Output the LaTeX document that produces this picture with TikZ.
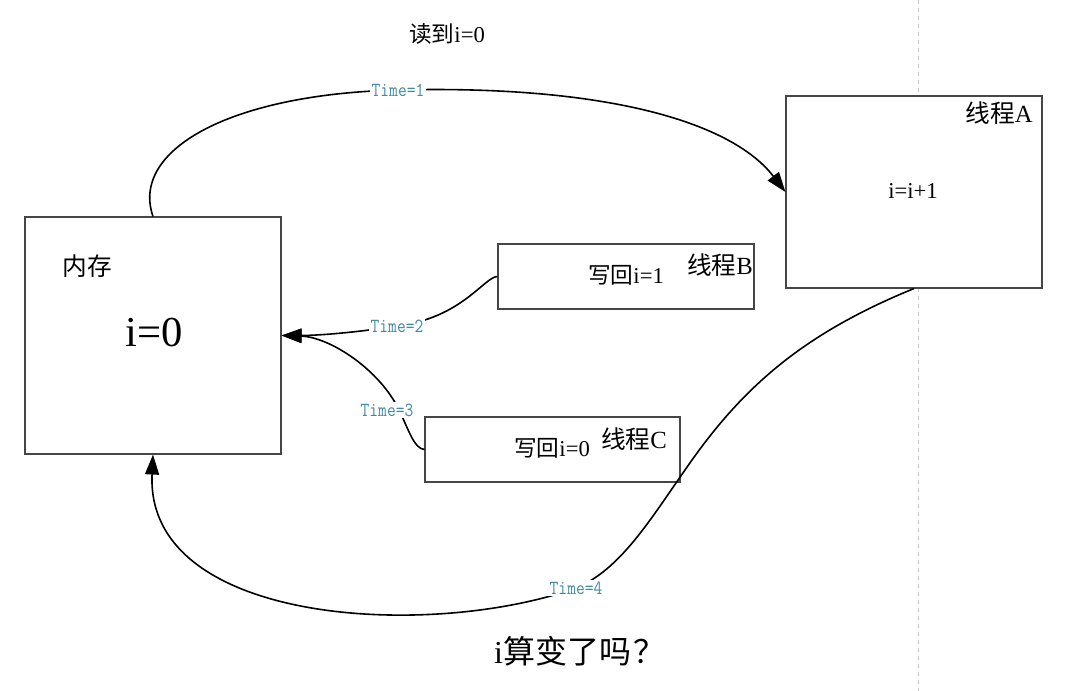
\documentclass[tikz,border=0pt]{standalone}
\usepackage{fontspec}
\usepackage{graphicx}
\setmainfont{Liberation Serif}
\newfontfamily\cjk{Noto Sans CJK SC}
\usetikzlibrary{arrows.meta}
\definecolor{labteal}{RGB}{62,138,160}
\definecolor{boxgray}{RGB}{70,70,70}
\newcommand{\timelab}[1]{\scalebox{0.85}[1]{#1}}
\begin{document}
\begin{tikzpicture}[x=0.75pt,y=-0.75pt,
  box/.style={draw=boxgray,line width=0.8pt,fill=white,inner sep=0pt},
  conn/.style={line width=1.2pt,-{Triangle[length=15pt,width=10.5pt]}},
  lab/.style={fill=white,inner sep=1pt,text=labteal,font=\ttfamily\fontsize{15}{16}\selectfont},
  body/.style={inner sep=0pt,font=\fontsize{17}{19}\selectfont},
  ttl/.style={inner sep=0pt,font=\fontsize{18.5}{20}\selectfont}]
\useasboundingbox (0,0) rectangle (1071,691);
% dashed divider
\coordinate (d1) at (918,0);
\coordinate (d2) at (918,691);
\draw[dashed,gray!45,line width=0.6pt] (d1) -- (d2);
% boxes
\node[box,minimum width=192pt,minimum height=177.75pt] (mem) at (153,335.5) {};
\node[box,minimum width=192pt,minimum height=144pt] (A) at (914,192) {};
\node[box,minimum width=192pt,minimum height=48.75pt] (B) at (626,276.5) {};
\node[box,minimum width=191.25pt,minimum height=48.75pt] (C) at (552.5,449.5) {};
% texts
\node[body] (read) at (447,34) {{\cjk 读到}i=0};
\node[ttl] (Atitle) at (999,113) {{\cjk 线程}A};
\node[body] (Aop) at (913,191) {i=i+1};
\node[ttl] (memtitle) at (87,266) {\cjk 内存};
\node[inner sep=0pt,font=\fontsize{32}{36}\selectfont] (memval) at (154,333) {i=0};
\node[body] (Bop) at (626,275) {{\cjk 写回}i=1};
\node[ttl] (Btitle) at (720,265) {{\cjk 线程}B};
\node[body] (Cop) at (552,448) {{\cjk 写回}i=0};
\node[ttl] (Ctitle) at (634,439) {{\cjk 线程}C};
\node[inner sep=0pt,font=\fontsize{24}{26}\selectfont] (q) at (580,651) {i{\cjk 算变了吗\kern2pt？}};
% connectors
\draw[conn] (mem.north) .. controls (130,150) and (230,94) .. (398,90)
  node[lab] (t1) {\timelab{Time=1}}
  .. controls (600,85) and (730,120) .. (A.west);
\draw[conn] (B.west) .. controls (484,277) and (462,318) .. (397,326)
  node[lab] (t2) {\timelab{Time=2}}
  .. controls (360,332) and (320,335.5) .. (mem.east);
\draw[conn] (C.west) .. controls (414,449) and (408,428) .. (399,410)
  node[lab,xshift=-9pt] (t3) {\timelab{Time=3}}
  .. controls (380,370) and (330,337) .. (mem.east);
\draw[conn] (A.south) .. controls (800,335) and (740,390) .. (685,470)
  .. controls (650,520) and (620,570) .. (576,588)
  node[lab] (t4) {\timelab{Time=4}}
  .. controls (430,640) and (145,625) .. (mem.south);
\end{tikzpicture}
\end{document}
